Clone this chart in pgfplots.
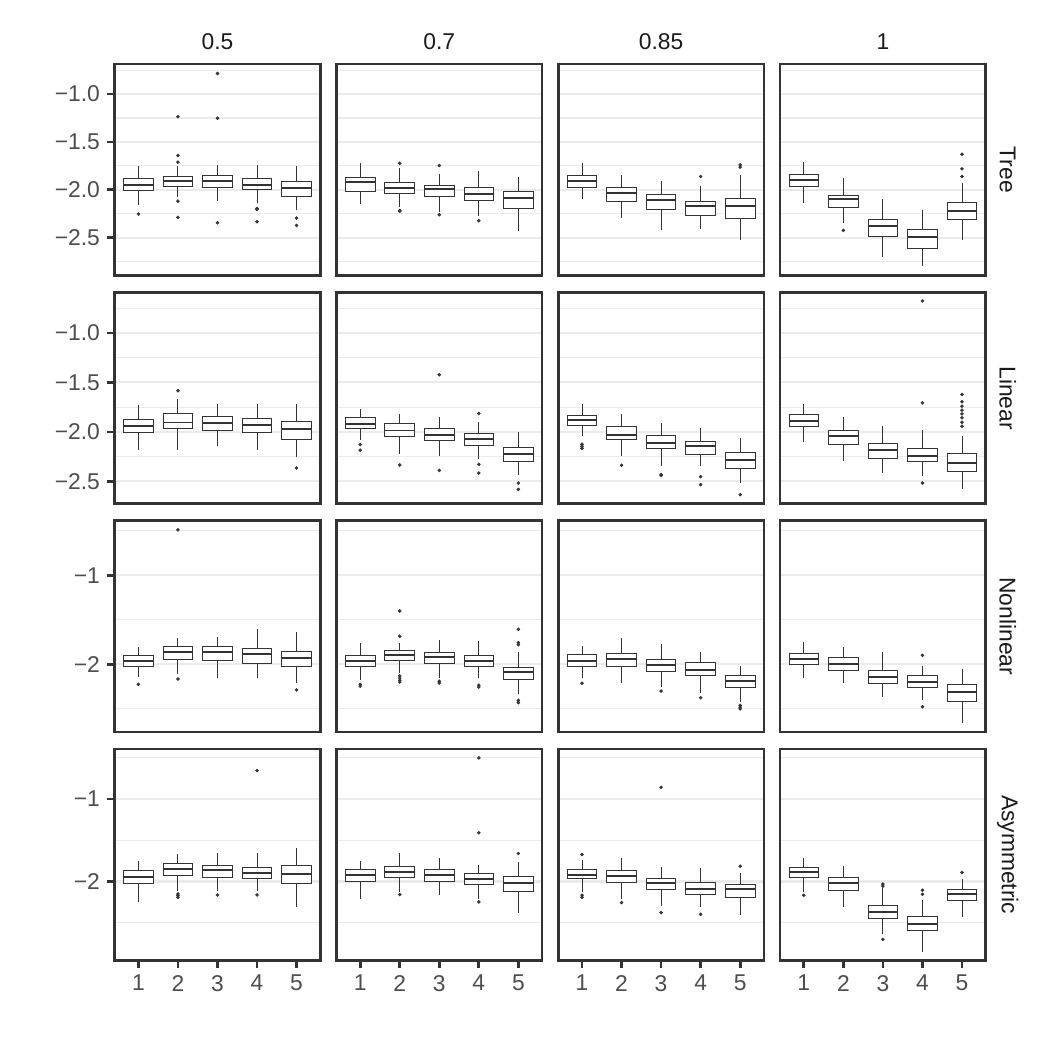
\documentclass[border=0pt]{standalone}
\usepackage{fontspec}
\setmainfont{Liberation Sans}
\usepackage{pgfplots}
\pgfplotsset{compat=1.18}
\usepgfplotslibrary{groupplots,statistics}
\usetikzlibrary{calc}
\definecolor{g20}{HTML}{333333}
\definecolor{g30}{HTML}{4D4D4D}
\definecolor{g10}{HTML}{1A1A1A}
\definecolor{g92}{HTML}{EBEBEB}
\newcommand\tfont{\fontsize{11}{12}\selectfont}
\newcommand{\bx}[6]{\addplot+[draw=g20, fill=white, line width=0.45pt, solid, mark=*, mark size=0.75pt, mark options={fill=g20, draw=g20, line width=0.2pt}, boxplot prepared={draw direction=y, draw position=#1, lower whisker=#2, lower quartile=#3, median=#4, upper quartile=#5, upper whisker=#6, box extend=0.75, whisker extend=0, every median/.style={line width=0.95pt}}] coordinates {};}
\newcommand{\bxo}[7]{\addplot+[draw=g20, fill=white, line width=0.45pt, solid, mark=*, mark size=0.75pt, mark options={fill=g20, draw=g20, line width=0.2pt}, boxplot prepared={draw direction=y, draw position=#1, lower whisker=#2, lower quartile=#3, median=#4, upper quartile=#5, upper whisker=#6, box extend=0.75, whisker extend=0, every median/.style={line width=0.95pt}}] table[row sep=\\,y index=0] {d\\ #7};}
\pgfplotsset{
  r1/.style={ymin=-2.895, ymax=-0.686, ytick={-2.5,-2,-1.5,-1}, minor ytick={-2.75,-2.25,-1.75,-1.25,-0.75}},
  r2/.style={ymin=-2.727, ymax=-0.589, ytick={-2.5,-2,-1.5,-1}, minor ytick={-2.25,-1.75,-1.25,-0.75}},
  r3/.style={ymin=-2.761, ymax=-0.387, ytick={-2,-1}, minor ytick={-2.5,-1.5,-0.5}},
  r4/.style={ymin=-2.956, ymax=-0.393, ytick={-2,-1}, minor ytick={-2.5,-1.5,-0.5}},
  La/.style={yticklabels={−2.5,−2.0,−1.5,−1.0}, ytick style={draw=g20}},
  Lb/.style={yticklabels={−2,−1}, ytick style={draw=g20}},
  Bt/.style={xticklabels={1,2,3,4,5}, xtick style={draw=g20}},
}
\begin{document}
\begin{tikzpicture}
\begin{groupplot}[
  group style={group size=4 by 4, horizontal sep=7.8pt, vertical sep=8.1pt},
  width=99.06pt, height=101.9pt, scale only axis, clip=false,
  xmin=0.4, xmax=5.6, xtick={1,2,3,4,5}, xticklabels={}, yticklabels={},
  xtick pos=bottom, ytick pos=left,
  axis line style={g20, line width=1.3pt},
  tick align=outside, major tick length=3.6pt, minor tick length=0pt,
  tick style={line width=1.3pt},
  xtick style={draw=none}, ytick style={draw=none},
  ymajorgrids, yminorgrids,
  major grid style={g92, line width=1pt},
  minor grid style={g92, line width=0.5pt},
  ticklabel style={font=\tfont, text=g30},
]
% ---------------- Row 1: Tree
\nextgroupplot[r1, La]
\bxo{1}{-2.16}{-2.01}{-1.948}{-1.885}{-1.75}{-2.253\\}
\bxo{2}{-2.07}{-1.96}{-1.91}{-1.857}{-1.75}{-1.236\\ -1.642\\ -1.711\\ -2.118\\ -2.288\\}
\bxo{3}{-2.122}{-1.972}{-1.913}{-1.847}{-1.743}{-0.785\\ -1.253\\ -2.344\\}
\bxo{4}{-2.139}{-2.0}{-1.948}{-1.878}{-1.743}{-2.195\\ -2.205\\ -2.333\\}
\bxo{5}{-2.215}{-2.066}{-1.983}{-1.913}{-1.75}{-2.295\\ -2.372\\}
\nextgroupplot[r1]
\bx{1}{-2.149}{-2.014}{-1.92}{-1.868}{-1.715}
\bxo{2}{-2.184}{-2.034}{-1.983}{-1.92}{-1.774}{-1.722\\ -2.215\\ -2.225\\}
\bxo{3}{-2.236}{-2.073}{-1.993}{-1.951}{-1.837}{-1.747\\ -2.26\\}
\bxo{4}{-2.278}{-2.111}{-2.042}{-1.979}{-1.799}{-2.323\\}
\bx{5}{-2.434}{-2.19}{-2.09}{-2.017}{-1.865}
\nextgroupplot[r1]
\bx{1}{-2.094}{-1.979}{-1.906}{-1.851}{-1.722}
\bx{2}{-2.295}{-2.118}{-2.038}{-1.972}{-1.844}
\bx{3}{-2.42}{-2.205}{-2.111}{-2.052}{-1.903}
\bxo{4}{-2.41}{-2.267}{-2.17}{-2.122}{-1.958}{-1.861\\}
\bxo{5}{-2.528}{-2.295}{-2.174}{-2.087}{-1.844}{-1.74\\ -1.764\\}
\nextgroupplot[r1]
\bx{1}{-2.142}{-1.965}{-1.896}{-1.84}{-1.705}
\bxo{2}{-2.347}{-2.18}{-2.101}{-2.059}{-1.878}{-2.424\\}
\bx{3}{-2.701}{-2.486}{-2.378}{-2.3125}{-2.094}
\bx{4}{-2.799}{-2.608}{-2.497}{-2.41}{-2.208}
\bxo{5}{-2.528}{-2.305}{-2.222}{-2.132}{-1.93}{-1.628\\ -1.781\\ -1.861\\}
% ---------------- Row 2: Linear
\nextgroupplot[r2, La]
\bx{1}{-2.186}{-2.003}{-1.936}{-1.878}{-1.73}
\bxo{2}{-2.179}{-1.97}{-1.905}{-1.818}{-1.666}{-1.584\\}
\bx{3}{-2.145}{-1.983}{-1.912}{-1.845}{-1.723}
\bx{4}{-2.179}{-2.01}{-1.932}{-1.868}{-1.713}
\bxo{5}{-2.253}{-2.078}{-1.97}{-1.899}{-1.713}{-2.365\\}
\nextgroupplot[r2]
\bxo{1}{-2.084}{-1.97}{-1.916}{-1.855}{-1.767}{-2.128\\ -2.186\\}
\bxo{2}{-2.223}{-2.051}{-1.986}{-1.919}{-1.824}{-2.334\\}
\bxo{3}{-2.247}{-2.091}{-2.034}{-1.97}{-1.851}{-1.422\\ -2.389\\}
\bxo{4}{-2.27}{-2.135}{-2.074}{-2.017}{-1.899}{-1.814\\ -2.328\\ -2.416\\}
\bxo{5}{-2.439}{-2.294}{-2.22}{-2.162}{-2.0}{-2.517\\ -2.581\\}
\nextgroupplot[r2]
\bxo{1}{-2.037}{-1.932}{-1.875}{-1.831}{-1.723}{-2.125\\ -2.145\\ -2.165\\}
\bxo{2}{-2.247}{-2.081}{-2.027}{-1.949}{-1.818}{-2.338\\}
\bxo{3}{-2.341}{-2.169}{-2.111}{-2.037}{-1.909}{-2.432\\ -2.44\\}
\bxo{4}{-2.341}{-2.23}{-2.142}{-2.095}{-1.956}{-2.453\\ -2.534\\}
\bxo{5}{-2.517}{-2.368}{-2.284}{-2.213}{-2.057}{-2.635\\}
\nextgroupplot[r2]
\bx{1}{-2.098}{-1.946}{-1.885}{-1.828}{-1.723}
\bx{2}{-2.291}{-2.132}{-2.044}{-1.986}{-1.845}
\bx{3}{-2.416}{-2.264}{-2.179}{-2.118}{-1.936}
\bxo{4}{-2.449}{-2.304}{-2.24}{-2.166}{-1.98}{-0.676\\ -1.706\\ -2.517\\}
\bxo{5}{-2.578}{-2.405}{-2.311}{-2.22}{-2.037}{-1.622\\ -1.696\\ -1.74\\ -1.78\\ -1.818\\ -1.858\\ -1.902\\ -1.943\\}
% ---------------- Row 3: Nonlinear
\nextgroupplot[r3, Lb]
\bxo{1}{-2.139}{-2.026}{-1.959}{-1.899}{-1.801}{-2.225\\}
\bxo{2}{-2.112}{-1.944}{-1.865}{-1.805}{-1.704}{-0.491\\ -2.165\\}
\bx{3}{-2.15}{-1.959}{-1.865}{-1.805}{-1.689}
\bx{4}{-2.15}{-1.985}{-1.888}{-1.82}{-1.603}
\bxo{5}{-2.213}{-2.022}{-1.933}{-1.861}{-1.64}{-2.288\\}
\nextgroupplot[r3]
\bxo{1}{-2.176}{-2.026}{-1.963}{-1.899}{-1.757}{-2.225\\ -2.245\\}
\bxo{2}{-2.101}{-1.955}{-1.895}{-1.846}{-1.757}{-1.401\\ -1.685\\ -2.13\\ -2.155\\ -2.18\\ -2.2\\}
\bxo{3}{-2.157}{-1.989}{-1.921}{-1.865}{-1.727}{-2.19\\ -2.21\\}
\bxo{4}{-2.157}{-2.026}{-1.959}{-1.906}{-1.742}{-2.235\\ -2.255\\}
\bxo{5}{-2.337}{-2.172}{-2.09}{-2.03}{-1.858}{-1.607\\ -1.757\\ -1.78\\ -2.405\\ -2.43\\}
\nextgroupplot[r3]
\bxo{1}{-2.157}{-2.019}{-1.959}{-1.895}{-1.794}{-2.213\\}
\bx{2}{-2.206}{-2.019}{-1.944}{-1.876}{-1.708}
\bxo{3}{-2.251}{-2.082}{-2.011}{-1.951}{-1.772}{-2.3\\}
\bxo{4}{-2.326}{-2.127}{-2.064}{-1.981}{-1.858}{-2.375\\}
\bxo{5}{-2.419}{-2.255}{-2.191}{-2.12}{-2.015}{-2.46\\ -2.48\\ -2.5\\}
\nextgroupplot[r3]
\bx{1}{-2.157}{-2.0}{-1.94}{-1.876}{-1.753}
\bx{2}{-2.213}{-2.067}{-1.993}{-1.921}{-1.809}
\bx{3}{-2.371}{-2.21}{-2.139}{-2.067}{-1.865}
\bxo{4}{-2.401}{-2.255}{-2.199}{-2.127}{-2.015}{-1.899\\ -2.476\\}
\bx{5}{-2.655}{-2.412}{-2.307}{-2.228}{-2.056}
% ---------------- Row 4: Asymmetric
\nextgroupplot[r4, Lb, Bt]
\bx{1}{-2.243}{-2.028}{-1.947}{-1.87}{-1.757}
\bxo{2}{-2.113}{-1.927}{-1.846}{-1.781}{-1.668}{-2.15\\ -2.17\\ -2.19\\}
\bxo{3}{-2.113}{-1.947}{-1.866}{-1.802}{-1.66}{-2.162\\}
\bxo{4}{-2.113}{-1.964}{-1.895}{-1.83}{-1.66}{-0.656\\ -2.162\\}
\bx{5}{-2.308}{-2.024}{-1.911}{-1.806}{-1.595}
\nextgroupplot[r4, Bt]
\bx{1}{-2.206}{-2.0}{-1.919}{-1.854}{-1.749}
\bxo{2}{-2.126}{-1.955}{-1.887}{-1.818}{-1.66}{-2.158\\}
\bx{3}{-2.158}{-1.996}{-1.923}{-1.854}{-1.717}
\bxo{4}{-2.206}{-2.036}{-1.968}{-1.903}{-1.802}{-0.502\\ -1.409\\ -2.247\\}
\bxo{5}{-2.381}{-2.121}{-2.016}{-1.939}{-1.769}{-1.66\\}
\nextgroupplot[r4, Bt]
\bxo{1}{-2.126}{-1.968}{-1.919}{-1.85}{-1.741}{-1.672\\ -2.165\\ -2.19\\}
\bxo{2}{-2.206}{-2.012}{-1.935}{-1.866}{-1.709}{-2.255\\}
\bxo{3}{-2.296}{-2.097}{-2.012}{-1.968}{-1.822}{-0.858\\ -2.377\\}
\bxo{4}{-2.308}{-2.158}{-2.089}{-2.012}{-1.842}{-2.397\\}
\bxo{5}{-2.409}{-2.194}{-2.089}{-2.036}{-1.9}{-1.814\\}
\nextgroupplot[r4, Bt]
\bxo{1}{-2.126}{-1.955}{-1.887}{-1.83}{-1.717}{-2.166\\}
\bx{2}{-2.308}{-2.113}{-2.016}{-1.947}{-1.814}
\bxo{3}{-2.632}{-2.449}{-2.364}{-2.291}{-2.08}{-2.03\\ -2.055\\ -2.7\\}
\bxo{4}{-2.85}{-2.599}{-2.518}{-2.429}{-2.227}{-2.105\\ -2.154\\}
\bxo{5}{-2.429}{-2.235}{-2.154}{-2.101}{-1.964}{-1.891\\}
\end{groupplot}
% strip labels
\node[font=\tfont, text=g10] at ($(group c1r1.north)+(0,10.6pt)$) {0.5};
\node[font=\tfont, text=g10] at ($(group c2r1.north)+(0,10.6pt)$) {0.7};
\node[font=\tfont, text=g10] at ($(group c3r1.north)+(0,10.6pt)$) {0.85};
\node[font=\tfont, text=g10] at ($(group c4r1.north)+(0,10.6pt)$) {1};
\node[font=\tfont, text=g10, rotate=-90] at ($(group c4r1.east)+(10.6pt,0)$) {Tree};
\node[font=\tfont, text=g10, rotate=-90] at ($(group c4r2.east)+(10.6pt,0)$) {Linear};
\node[font=\tfont, text=g10, rotate=-90] at ($(group c4r3.east)+(10.6pt,0)$) {Nonlinear};
\node[font=\tfont, text=g10, rotate=-90] at ($(group c4r4.east)+(10.6pt,0)$) {Asymmetric};
\path ($(group c1r1.north west)+(-55.26pt,30.84pt)$) rectangle ++(505.9pt,-505.9pt);
\end{tikzpicture}
\end{document}
